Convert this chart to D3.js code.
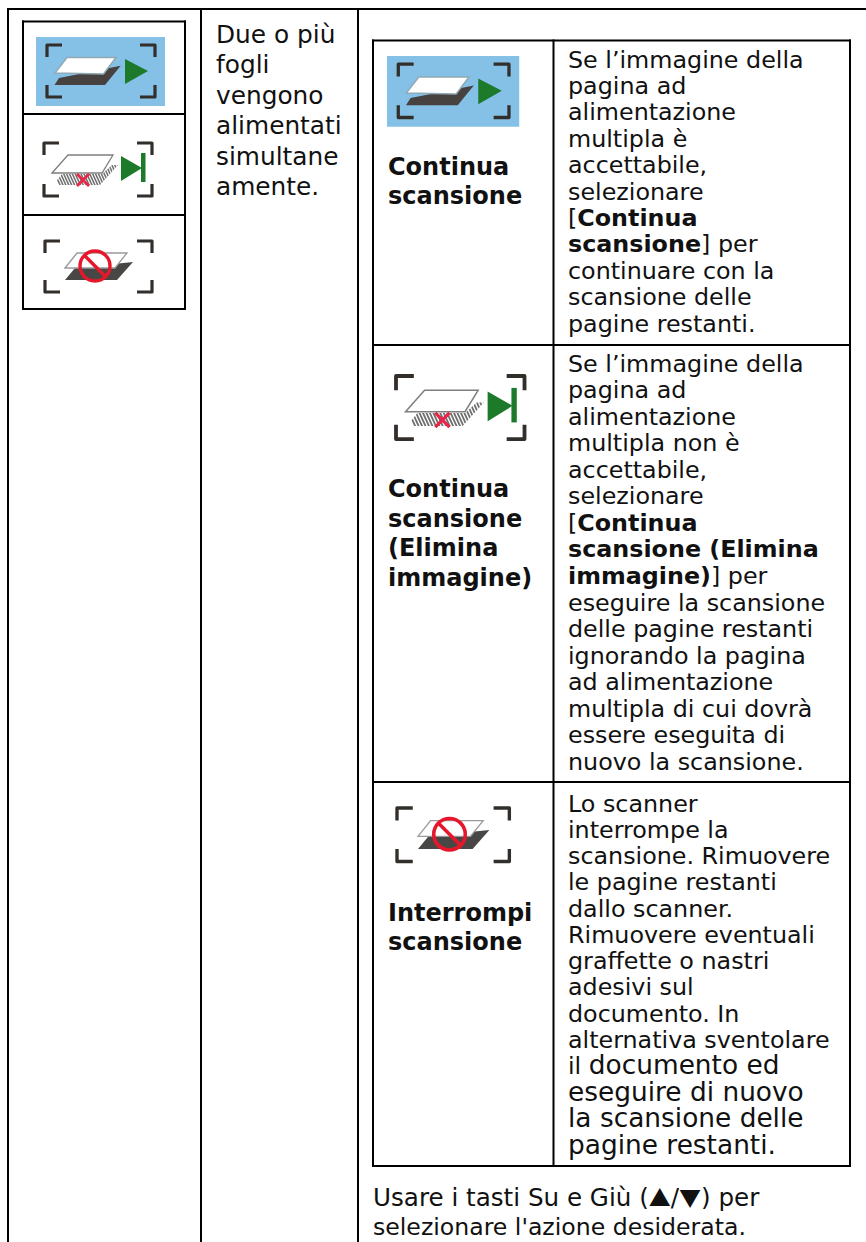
<!DOCTYPE html>
<html>
<head>
<meta charset="utf-8">
<script src="https://cdn.jsdelivr.net/npm/d3@7/dist/d3.min.js"></script>
<style>
  html, body { margin: 0; padding: 0; background: #fff; }
  svg { display: block; }
  text { font-family: "DejaVu Sans", Verdana, sans-serif; fill: #111; }
</style>
</head>
<body>
<svg id="page" width="866" height="1242"></svg>
<script>
// *...* marks a bold run, ^...^ marks the arrow glyphs
const causeLines = ['Due o più', 'fogli', 'vengono', 'alimentati', 'simultane', 'amente.'];
const continueLabel = ['Continua', 'scansione'];
const deleteLabel = ['Continua', 'scansione', '(Elimina', 'immagine)'];
const stopLabel = ['Interrompi', 'scansione'];
const continueText = [
  'Se l’immagine della', 'pagina ad', 'alimentazione', 'multipla è', 'accettabile,', 'selezionare',
  '[*Continua*', '*scansione*] per', 'continuare con la', 'scansione delle', 'pagine restanti.'
];
const deleteText = [
  'Se l’immagine della', 'pagina ad', 'alimentazione', 'multipla non è', 'accettabile,', 'selezionare',
  '[*Continua*', '*scansione (Elimina*', '*immagine)*] per', 'eseguire la scansione', 'delle pagine restanti',
  'ignorando la pagina', 'ad alimentazione', 'multipla di cui dovrà', 'essere eseguita di', 'nuovo la scansione.'
];
const stopText = [
  'Lo scanner', 'interrompe la', 'scansione. Rimuovere', 'le pagine restanti', 'dallo scanner.',
  'Rimuovere eventuali', 'graffette o nastri', 'adesivi sul', 'documento. In', 'alternativa sventolare'
];
const stopTextBig = ['documento ed', 'eseguire di nuovo', 'la scansione delle', 'pagine restanti.'];
const footerFirst = ['Usare i tasti Su e Giù (^▲^/^▼^) per'];
const footerSecond = ["selezionare l'azione desiderata."];

const svg = d3.select('#page');
const fontSize = 23.8;
const bigSize = 26.4;
const causeSize = 24.8;
const labelSize = 24;

const defs = svg.append('defs');
defs.append('filter').attr('id', 'soft').append('feGaussianBlur').attr('stdDeviation', 0.55);
defs.append('clipPath').attr('id', 'band').append('path')
  .attr('d', d3.line()([[9, 42], [56, 42], [74, 22], [68, 22], [58, 31], [18, 31]]) + 'Z');

function hline(x1, x2, y) {
  svg.append('line').attr('x1', x1).attr('x2', x2).attr('y1', y).attr('y2', y)
    .attr('stroke', '#000').attr('stroke-width', 2);
}
function vline(x, y1, y2) {
  svg.append('line').attr('x1', x).attr('x2', x).attr('y1', y1).attr('y2', y2)
    .attr('stroke', '#000').attr('stroke-width', 2);
}

// outer table
hline(7, 866, 9);
vline(8, 8, 1242);
vline(201, 9, 1242);
vline(358, 9, 1242);

// small icon table
hline(22, 186, 21.5);
hline(22, 186, 114);
hline(22, 186, 215);
hline(22, 186, 309);
vline(23, 20.5, 310);
vline(185, 20.5, 310);

// option table
hline(372, 851, 40.5);
hline(372, 851, 345);
hline(372, 851, 782);
hline(372, 851, 1166);
vline(373, 39.5, 1167);
vline(553.5, 39.5, 1167);
vline(850, 39.5, 1167);

function block(lines, x, first, last, opts = {}) {
  const y = d3.scaleLinear().domain([0, Math.max(lines.length - 1, 1)]).range([first, last]);
  const t = svg.append('g').selectAll('text').data(lines).join('text')
    .attr('x', x)
    .attr('y', (d, i) => y(i))
    .attr('font-size', opts.size || fontSize)
    .attr('font-weight', opts.bold ? 'bold' : null);
  t.each(function (d) {
    const node = d3.select(this);
    d.split('^').forEach((chunk, k) => {
      if (k % 2) {
        node.append('tspan').style('font-family', '"Noto Sans CJK JP"').attr('font-size', 22).text(chunk);
        return;
      }
      chunk.split('*').forEach((part, i) => {
        if (part) node.append('tspan').attr('font-weight', i % 2 ? 'bold' : null).text(part);
      });
    });
  });
  return t;
}

block(causeLines, 216, 43, 195, { size: causeSize });
block(continueLabel, 388, 175, 204, { bold: true, size: labelSize });
block(deleteLabel, 388, 497, 586, { bold: true, size: labelSize });
block(stopLabel, 388, 921, 950, { bold: true, size: labelSize });
block(continueText, 568, 67.5, 331.5);
block(deleteText, 568, 371.5, 770);
block(stopText, 568, 811.5, 1048);

// last lines of the stop row are set larger, only "il" keeps the body size
const big = block(stopTextBig, 568, 1074, 1154, { size: bigSize });
big.filter((d, i) => i === 0).insert('tspan', ':first-child').attr('font-size', fontSize).text('il ');

block(footerFirst, 373, 1206, 1206, { size: 24.6 });
block(footerSecond, 373, 1235, 1235, { size: 23.6 });

// icons, drawn relative to the corner brackets (w x h box)
function brackets(g, w, h) {
  const a = 15;
  const b = 12;
  const corners = [
    [[0, b], [0, 0], [a, 0]],
    [[w - a, 0], [w, 0], [w, b]],
    [[0, h - b], [0, h], [a, h]],
    [[w - a, h], [w, h], [w, h - b]]
  ];
  g.selectAll('path.corner').data(corners).join('path').attr('class', 'corner')
    .attr('d', d3.line().curve(d3.curveLinear))
    .attr('fill', 'none').attr('stroke', '#332e2c').attr('stroke-width', 3.2).attr('stroke-linejoin', 'round');
}
function poly(g, pts, fill, stroke, sw) {
  return g.append('path').attr('d', d3.line()(pts) + 'Z')
    .attr('fill', fill).attr('stroke', stroke || 'none').attr('stroke-width', sw || 0);
}

function iconContinue(x, y, s) {
  const root = svg.append('g').attr('transform', `translate(${x},${y}) scale(${s})`);
  root.append('rect').attr('width', 129).attr('height', 69).attr('fill', '#85c1e6');
  const g = root.append('g').attr('transform', 'translate(11,8)').attr('filter', 'url(#soft)');
  brackets(g, 108, 52);
  poly(g, [[7.5, 40], [12, 33], [73.7, 20.7], [58, 40]], '#46423f');
  poly(g, [[8, 28], [20, 12.5], [69, 12.5], [56.5, 29]], '#fff', '#8fa9b5', 1.5);
  poly(g, [[78, 14], [101, 26], [78, 39]], '#1a7a2c');
}

function iconDelete(x, y, s) {
  const g = svg.append('g').attr('transform', `translate(${x},${y}) scale(${s})`).attr('filter', 'url(#soft)');
  brackets(g, 108, 53);
  const stripes = g.append('g').attr('clip-path', 'url(#band)');
  stripes.selectAll('line').data(d3.range(0, 26)).join('line')
    .attr('x1', (d) => 6 + d * 2.9).attr('x2', (d) => 17 + d * 2.9)
    .attr('y1', 20).attr('y2', 44)
    .attr('stroke', '#6e6e6e').attr('stroke-width', 1.5);
  poly(g, [[8, 30], [24, 12], [69, 12], [58, 30]], '#fff', '#7f7f7f', 1.3);
  const cx = 39;
  const cy = 37;
  g.append('path').attr('d', `M${cx - 6},${cy - 6}L${cx + 6},${cy + 6}M${cx + 6},${cy - 6}L${cx - 6},${cy + 6}`)
    .attr('stroke', '#e8284a').attr('stroke-width', 2.8);
  poly(g, [[77, 13], [98, 25], [77, 38]], '#1a7a2c');
  g.append('rect').attr('x', 97).attr('y', 10).attr('width', 4.5).attr('height', 29).attr('fill', '#1a7a2c');
}

function iconStop(x, y, s) {
  const g = svg.append('g').attr('transform', `translate(${x},${y}) scale(${s})`).attr('filter', 'url(#soft)');
  brackets(g, 107, 51);
  poly(g, [[20, 39], [30, 27], [88, 21], [72, 39]], '#4a4644');
  poly(g, [[20, 27], [32, 12], [82, 12], [70, 27]], '#fff', '#9a9a9a', 1.3);
  g.append('circle').attr('cx', 50).attr('cy', 25).attr('r', 15)
    .attr('fill', 'none').attr('stroke', '#e8192c').attr('stroke-width', 3.4);
  g.append('line').attr('x1', 40).attr('y1', 15).attr('x2', 60).attr('y2', 35)
    .attr('stroke', '#e8192c').attr('stroke-width', 3.4);
}

iconContinue(36, 37, 1);
iconDelete(44, 143, 1);
iconStop(45, 241, 1);
iconContinue(387, 56, 1.025);
iconDelete(396, 376, 1.19);
iconStop(397, 808, 1.05);
</script>
</body>
</html>
